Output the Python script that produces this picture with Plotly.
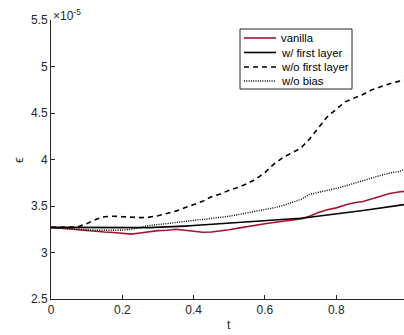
import plotly.graph_objects as go

t = [0, 0.025, 0.05, 0.075, 0.1, 0.125, 0.15, 0.175, 0.2, 0.225, 0.25, 0.275, 0.3, 0.325,
     0.35, 0.375, 0.4, 0.425, 0.45, 0.475, 0.5, 0.525, 0.55, 0.575, 0.6, 0.625, 0.65, 0.675,
     0.7, 0.725, 0.75, 0.775, 0.8, 0.825, 0.85, 0.875, 0.9, 0.925, 0.95, 0.975, 0.99]

# values in units of 1e-5
vanilla = [3.27, 3.265, 3.255, 3.245, 3.235, 3.225, 3.22, 3.215, 3.205, 3.198, 3.21, 3.225, 3.235, 3.24,
           3.25, 3.24, 3.225, 3.218, 3.22, 3.23, 3.245, 3.262, 3.28, 3.295, 3.31, 3.322, 3.333, 3.345,
           3.36, 3.39, 3.43, 3.46, 3.48, 3.51, 3.535, 3.548, 3.575, 3.61, 3.635, 3.65, 3.657]
w_first = [3.27, 3.269, 3.268, 3.267, 3.266, 3.265, 3.265, 3.265, 3.265, 3.266, 3.267, 3.268, 3.27, 3.274,
           3.278, 3.284, 3.29, 3.296, 3.302, 3.31, 3.318, 3.323, 3.328, 3.334, 3.34, 3.347, 3.354, 3.361,
           3.368, 3.379, 3.39, 3.401, 3.413, 3.426, 3.439, 3.452, 3.465, 3.478, 3.491, 3.505, 3.515]
wo_first = [3.27, 3.27, 3.27, 3.275, 3.31, 3.355, 3.385, 3.39, 3.385, 3.38, 3.375, 3.38, 3.395, 3.42,
            3.445, 3.48, 3.515, 3.55, 3.60, 3.63, 3.67, 3.70, 3.74, 3.79, 3.86, 3.95, 4.02, 4.07,
            4.12, 4.22, 4.34, 4.46, 4.54, 4.62, 4.66, 4.70, 4.75, 4.785, 4.815, 4.84, 4.855]
wo_bias = [3.265, 3.262, 3.258, 3.25, 3.245, 3.24, 3.238, 3.237, 3.24, 3.25, 3.27, 3.29, 3.30, 3.31,
           3.32, 3.33, 3.345, 3.355, 3.365, 3.378, 3.39, 3.405, 3.425, 3.445, 3.46, 3.48, 3.505, 3.535,
           3.57, 3.625, 3.645, 3.665, 3.69, 3.715, 3.745, 3.775, 3.80, 3.83, 3.855, 3.87, 3.89]

series_names = ["vanilla", "w/ first layer", "w/o first layer", "w/o bias"]

x_ticks = [0, 0.2, 0.4, 0.6, 0.8]
x_tick_labels = ["0", "0.2", "0.4", "0.6", "0.8"]
y_ticks = [2.5, 3, 3.5, 4, 4.5, 5, 5.5]
y_tick_labels = ["2.5", "3", "3.5", "4", "4.5", "5", "5.5"]

axis_color = "#262626"
font = "Liberation Sans, Arial, sans-serif"

W, H = 404, 335
L, R, T, B = 51, 0, 20, 36
PW, PH = W - L - R, H - T - B


def px_x(px):
    return (px - L) / PW


def px_y(py):
    return (H - B - py) / PH


styles = [
    dict(color="#A2142F", width=1.6),
    dict(color="black", width=1.6),
    dict(color="black", width=1.6, dash="5px,4px"),
    dict(color="black", width=1.4, dash="1px,1.3px"),
]
data = [vanilla, w_first, wo_first, wo_bias]

fig = go.Figure()
for name, ys, st in zip(series_names, data, styles):
    fig.add_trace(go.Scatter(x=t, y=ys, mode="lines", name=name, line=st, showlegend=False))

fig.update_layout(
    width=W, height=H,
    margin=dict(l=L, r=R, t=T, b=B),
    paper_bgcolor="white", plot_bgcolor="white",
    font=dict(family=font, size=12, color=axis_color),
    showlegend=False,
    xaxis=dict(range=[0, 0.99], tickvals=x_ticks, ticktext=x_tick_labels,
               showgrid=False, zeroline=False, showline=True, linecolor=axis_color, linewidth=1,
               ticks="inside", ticklen=4, tickcolor=axis_color),
    yaxis=dict(range=[2.5, 5.5], tickvals=y_ticks, ticktext=y_tick_labels,
               showgrid=False, zeroline=False, showline=True, linecolor=axis_color, linewidth=1,
               ticks="inside", ticklen=4, tickcolor=axis_color),
)

# axis labels
fig.add_annotation(text="t", xref="paper", yref="paper", x=px_x(229), y=px_y(325),
                   xanchor="center", yanchor="middle", showarrow=False,
                   font=dict(size=12, color=axis_color))
fig.add_annotation(text="ϵ", xref="paper", yref="paper", x=px_x(18), y=px_y(160),
                   xanchor="center", yanchor="middle", showarrow=False, textangle=-90,
                   font=dict(size=13, color=axis_color))
fig.add_annotation(text="×10<sup>-5</sup>", xref="paper", yref="paper", x=0, y=1,
                   xanchor="left", yanchor="bottom", showarrow=False,
                   font=dict(size=12, color=axis_color), yshift=-5)

# legend box (manual, compact like the reference)
fig.add_shape(type="rect", xref="paper", yref="paper",
              x0=px_x(240), x1=px_x(352), y0=px_y(89), y1=px_y(29),
              line=dict(color=axis_color, width=1), fillcolor="white", layer="above")
row_y = [38, 52.5, 67, 81]
for name, st, ry in zip(series_names, styles, row_y):
    fig.add_shape(type="line", xref="paper", yref="paper",
                  x0=px_x(244), x1=px_x(276), y0=px_y(ry), y1=px_y(ry),
                  line=st, layer="above")
    fig.add_annotation(text=name, xref="paper", yref="paper", x=px_x(279), y=px_y(ry),
                       xanchor="left", yanchor="middle", showarrow=False,
                       font=dict(size=11.3, color="black"))

fig.write_html("out.html")
